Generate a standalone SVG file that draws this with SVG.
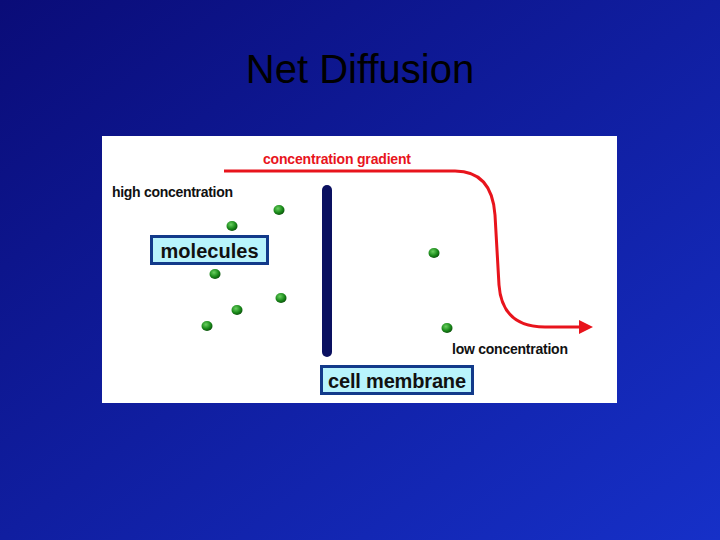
<svg xmlns="http://www.w3.org/2000/svg" width="720" height="540" viewBox="0 0 720 540">
<defs>
<linearGradient id="bg" x1="0" y1="0" x2="1" y2="1">
<stop offset="0" stop-color="#0a0c78"/><stop offset="1" stop-color="#1630c8"/>
</linearGradient>
<radialGradient id="dot" cx="0.4" cy="0.35" r="0.7">
<stop offset="0" stop-color="#6ad060"/><stop offset="0.6" stop-color="#1a8a1a"/><stop offset="1" stop-color="#0a4a0a"/>
</radialGradient>
<marker id="ah" markerWidth="14" markerHeight="14" refX="1" refY="7" orient="auto" markerUnits="userSpaceOnUse" viewBox="0 0 14 14">
<path d="M0,0 L14,7 L0,14 Z" fill="#e8141c"/>
</marker>
<style>
.lbl{font-family:"Liberation Sans",Arial,sans-serif;font-weight:bold;fill:#111}
.box{fill:#b8f4fc;stroke:#123a8a;stroke-width:3}
.mol{fill:url(#dot)}
</style>
</defs>
<rect width="720" height="540" fill="url(#bg)"/>
<text x="360" y="83" text-anchor="middle" font-family="Liberation Sans,Arial,sans-serif" font-size="40" fill="#000">Net Diffusion</text>
<rect x="102" y="136" width="515" height="267" fill="#fff"/>
<g id="connectors">
<path d="M224,171 L455,171 Q492,171 495,215 L499,285 Q502,327 545,327 L580,327" fill="none" stroke="#e8141c" stroke-width="3" marker-end="url(#ah)"/>
</g>
<g id="gradient-label"><text class="lbl" x="263" y="164" font-size="14" style="fill:#e8141c" textLength="148">concentration gradient</text></g>
<g id="high"><text class="lbl" x="112" y="197" font-size="14" textLength="121">high concentration</text></g>
<g id="low"><text class="lbl" x="452" y="354" font-size="14" textLength="116">low concentration</text></g>
<g id="membrane"><rect x="322" y="185" width="10" height="172" rx="5" fill="#0a1060"/></g>
<g id="molecules"><rect class="box" x="151.5" y="236.5" width="116" height="27"/><text class="lbl" x="209.5" y="258" font-size="20" text-anchor="middle" textLength="98">molecules</text></g>
<g id="cell-membrane"><rect class="box" x="321.5" y="366.5" width="151" height="27"/><text class="lbl" x="397" y="388" font-size="20" text-anchor="middle" textLength="138">cell membrane</text></g>
<g id="dots">
<ellipse class="mol" cx="279" cy="210" rx="5.5" ry="5"/>
<ellipse class="mol" cx="232" cy="226" rx="5.5" ry="5"/>
<ellipse class="mol" cx="215" cy="274" rx="5.5" ry="5"/>
<ellipse class="mol" cx="281" cy="298" rx="5.5" ry="5"/>
<ellipse class="mol" cx="237" cy="310" rx="5.5" ry="5"/>
<ellipse class="mol" cx="207" cy="326" rx="5.5" ry="5"/>
<ellipse class="mol" cx="434" cy="253" rx="5.5" ry="5"/>
<ellipse class="mol" cx="447" cy="328" rx="5.5" ry="5"/>
</g>
</svg>
